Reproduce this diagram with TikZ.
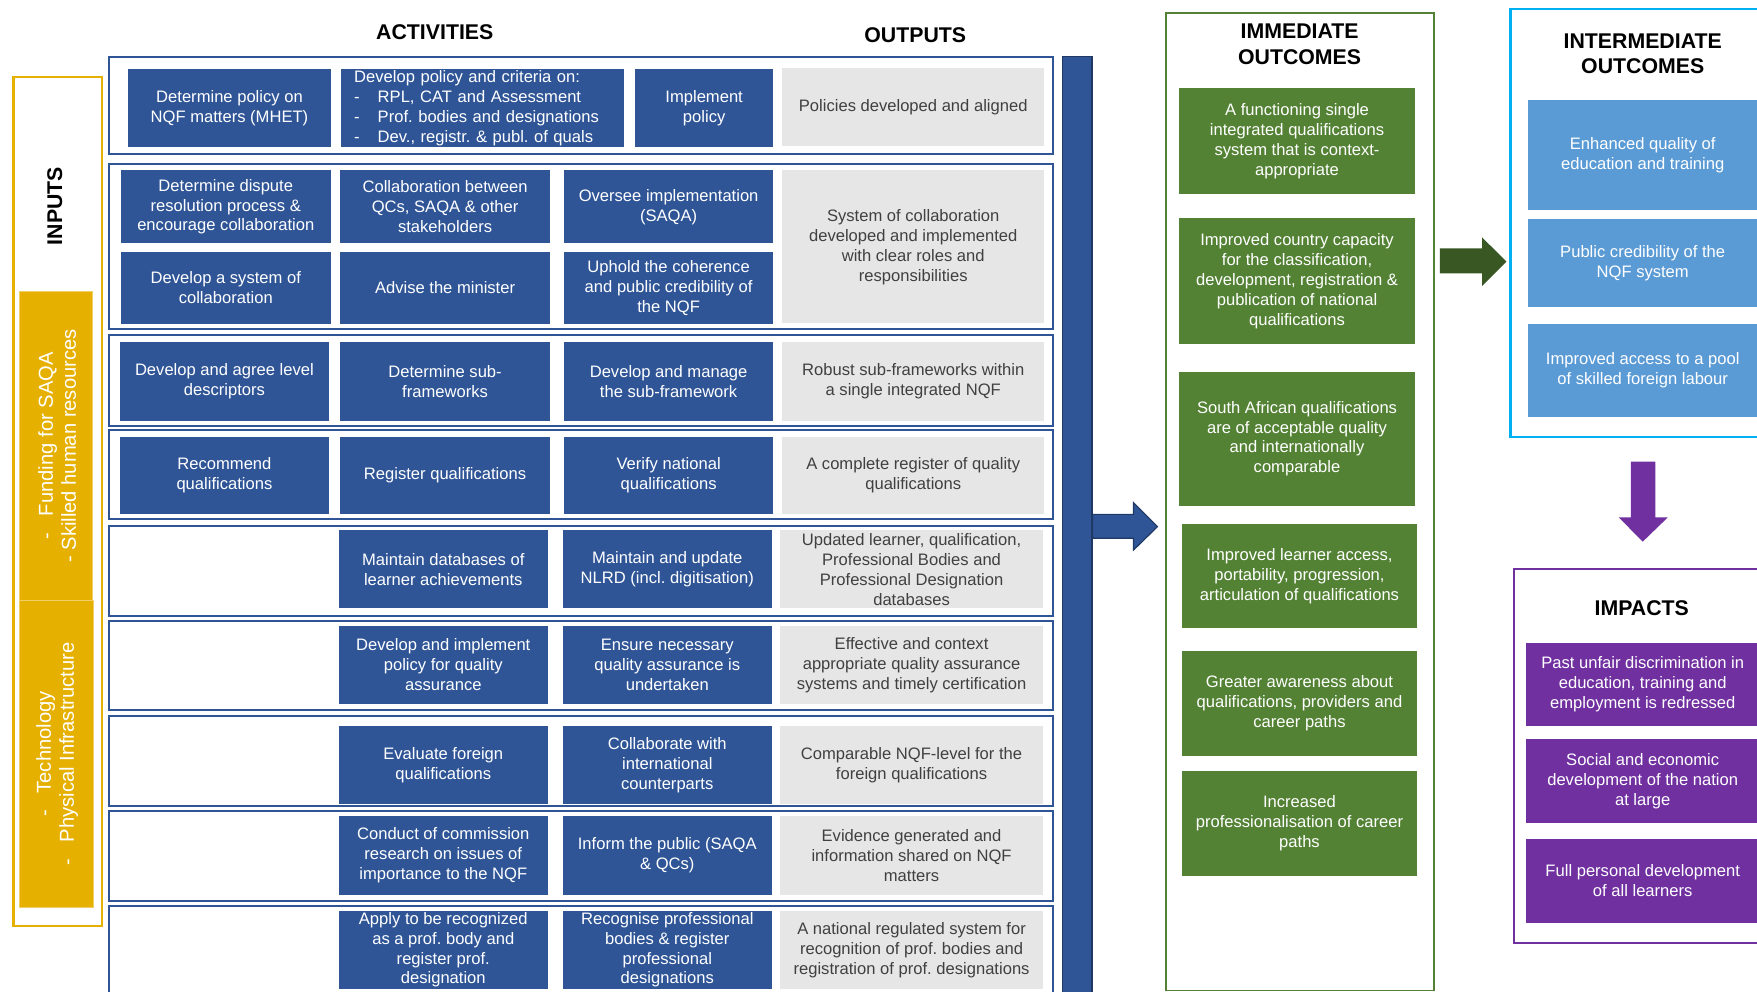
\documentclass[tikz,border=0pt]{standalone}
\usepackage{fontspec}
\setmainfont{Liberation Sans}
\frenchspacing
\definecolor{actblue}{RGB}{47,85,151}
\definecolor{darkblue}{RGB}{31,56,100}
\definecolor{outgrey}{RGB}{230,230,230}
\definecolor{outtext}{RGB}{64,64,64}
\definecolor{inyellow}{RGB}{230,176,0}
\definecolor{imgreen}{RGB}{84,130,53}
\definecolor{arrgreen}{RGB}{56,87,35}
\definecolor{frcyan}{RGB}{0,176,240}
\definecolor{midblue}{RGB}{91,155,213}
\definecolor{impurple}{RGB}{112,48,160}
\begin{document}
\begin{tikzpicture}[x=1pt,y=-1pt,
	box/.style={rectangle, inner sep=0pt, align=center, text=white, font=\fontsize{14.8}{17.8}\selectfont\frenchspacing},
	act/.style={box, fill=actblue, minimum width=187pt, minimum height=70pt},
	outp/.style={box, fill=outgrey, text=outtext, minimum width=234pt, minimum height=70pt},
	imm/.style={box, fill=imgreen, minimum width=210.5pt},
	mid/.style={box, fill=midblue, minimum width=204pt},
	imp/.style={box, fill=impurple, minimum width=209pt},
	head/.style={align=center, inner sep=0pt, font=\bfseries\fontsize{19}{23}\selectfont},
	side/.style={rotate=90, align=center, inner sep=0pt, text=white, font=\fontsize{18}{20.5}\selectfont},
	rowframe/.style={draw=actblue, line width=1.8pt, fill=white}]
	\useasboundingbox (0,0) rectangle (1568,885);

	\draw[inyellow, line width=2pt] (12,69) rectangle (91,826.5);
	\draw[fill=inyellow, draw=inyellow!60!white, line width=0.6pt] (17,260) rectangle (82,536);
	\draw[fill=inyellow, draw=inyellow!60!white, line width=0.6pt] (17,536) rectangle (83.5,809.5);
	\node (inputs)	at (49,184)	[rotate=90, inner sep=0pt, font=\bfseries\fontsize{19}{23}\selectfont]	{INPUTS};
	\node (fund)	at (51,398)	[side]	{-\hspace{15pt}Funding for SAQA\\- Skilled human resources};
	\node (tech)	at (51,673)	[side]	{-\hspace{15pt}Technology\\-\hspace{15pt}Physical Infrastructure};

	\node (activities)	at (388,29)	[head]	{ACTIVITIES};
	\node (outputs)	at (816.8,31)	[head]	{OUTPUTS};

	\draw[rowframe] (97,51) rectangle (940,137.5);
	\draw[rowframe] (97,146.5) rectangle (940,294);
	\draw[rowframe] (97,299) rectangle (940,380);
	\draw[rowframe] (97,384) rectangle (940,463.5);
	\draw[rowframe] (97,469) rectangle (940,549.5);
	\draw[rowframe] (97,554) rectangle (940,633.5);
	\draw[rowframe] (97,639) rectangle (940,719.5);
	\draw[rowframe] (97,724) rectangle (940,804);
	\draw[rowframe] (97,808.5) rectangle (940,900);

	\node (A1a) at (204.8,96.3)	[act, minimum width=182pt, minimum height=69.5pt]	{Determine policy on\\NQF matters (MHET)};
	\node (A1b) at (430.6,96.3)	[act, minimum width=253pt, minimum height=69.5pt, text width=229pt, align=left]	{Develop policy and criteria on:\\\makebox[21pt][l]{-}RPL, CAT and Assessment\\\makebox[21pt][l]{-}Prof. bodies and designations\\\makebox[21pt][l]{-}Dev., registr. \& publ. of quals};
	\node (A1c) at (628.4,96.3)	[act, minimum width=123pt, minimum height=69.5pt]	{Implement\\policy};
	\node (O1) at (815,95.4)	[outp, minimum height=69.5pt]	{Policies developed and aligned};

	\node (A2a) at (201.5,184.5)	[act, minimum height=65pt]	{Determine dispute\\resolution process \&\\encourage collaboration};
	\node (A2b) at (397.2,184.5)	[act, minimum height=65pt]	{Collaboration between\\QCs, SAQA \& other\\stakeholders};
	\node (A2c) at (596.7,184.5)	[act, minimum height=65pt]	{Oversee implementation\\(SAQA)};
	\node (A2d) at (201.5,256.8)	[act, minimum height=64.5pt]	{Develop a system of\\collaboration};
	\node (A2e) at (397.2,256.8)	[act, minimum height=64.5pt]	{Advise the minister};
	\node (A2f) at (596.7,256.8)	[act, minimum height=64.5pt]	{Uphold the coherence\\and public credibility of\\the NQF};
	\node (O2) at (815,220.3)	[outp, minimum height=136.6pt]	{System of collaboration\\developed and implemented\\with clear roles and\\responsibilities};

	\node (A3a) at (200.3,340.5)	[act]	{Develop and agree level\\descriptors};
	\node (A3b) at (397.2,340.5)	[act]	{Determine sub-\\frameworks};
	\node (A3c) at (596.7,340.5)	[act]	{Develop and manage\\the sub-framework};
	\node (O3) at (815,340.5)	[outp]	{Robust sub-frameworks within\\a single integrated NQF};

	\node (A4a) at (200.3,424.3)	[act, minimum height=69.5pt]	{Recommend\\qualifications};
	\node (A4b) at (397.2,424.3)	[act, minimum height=69.5pt]	{Register qualifications};
	\node (A4c) at (596.7,424.3)	[act, minimum height=69.5pt]	{Verify national\\qualifications};
	\node (O4) at (815,424.3)	[outp, minimum height=69.5pt]	{A complete register of quality\\qualifications};

	\node (A5b) at (395.6,508)	[act]	{Maintain databases of\\learner achievements};
	\node (A5c) at (595.5,508)	[act]	{Maintain and update\\NLRD (incl. digitisation)};
	\node (O5) at (813.5,508)	[outp]	{Updated learner, qualification,\\Professional Bodies and\\Professional Designation\\databases};

	\node (A6b) at (395.6,593.3)	[act]	{Develop and implement\\policy for quality\\assurance};
	\node (A6c) at (595.5,593.3)	[act]	{Ensure necessary\\quality assurance is\\undertaken};
	\node (O6) at (813.5,593.3)	[outp]	{Effective and context\\appropriate quality assurance\\systems and timely certification};

	\node (A7b) at (395.6,682.8)	[act]	{Evaluate foreign\\qualifications};
	\node (A7c) at (595.5,682.8)	[act]	{Collaborate with\\international\\counterparts};
	\node (O7) at (813.5,682.8)	[outp]	{Comparable NQF-level for the\\foreign qualifications};

	\node (A8b) at (395.6,763.6)	[act]	{Conduct of commission\\research on issues of\\importance to the NQF};
	\node (A8c) at (595.5,763.6)	[act]	{Inform the public (SAQA\\\& QCs)};
	\node (O8) at (813.5,763.6)	[outp]	{Evidence generated and\\information shared on NQF\\matters};

	\node (A9b) at (395.6,847.6)	[act]	{Apply to be recognized\\as a prof. body and\\register prof.\\designation};
	\node (A9c) at (595.5,847.6)	[act]	{Recognise professional\\bodies \& register\\professional\\designations};
	\node (O9) at (813.5,847.6)	[outp]	{A national regulated system for\\recognition of prof. bodies and\\registration of prof. designations};

	\draw[fill=actblue, draw=darkblue, line width=1.2pt] (948.3,50.6) rectangle (974.6,900);
	\filldraw[fill=actblue, draw=darkblue, line width=1pt] (975,459) -- (1011.6,459) -- (1011.6,448.6) -- (1033,470) -- (1011.6,490.9) -- (1011.6,480.4) -- (975,480.4) -- cycle;

	\draw[imgreen, line width=1.6pt] (1040.4,11.3) rectangle (1279.8,884);
	\node (immediate)	at (1159.8,39.2)	[head]	{IMMEDIATE\\OUTCOMES};
	\node (IO1) at (1157.5,125.9)	[imm, minimum height=94.1pt]	{A functioning single\\integrated qualifications\\system that is context-\\appropriate};
	\node (IO2) at (1157.5,251)	[imm, minimum height=112.1pt]	{Improved country capacity\\for the classification,\\development, registration \&\\publication of national\\qualifications};
	\node (IO3) at (1157.5,391.5)	[imm, minimum height=119.6pt]	{South African qualifications\\are of acceptable quality\\and internationally\\comparable};
	\node (IO4) at (1159.7,514.3)	[imm, minimum height=93.1pt]	{Improved learner access,\\portability, progression,\\articulation of qualifications};
	\node (IO5) at (1159.7,627.6)	[imm, minimum height=93.7pt]	{Greater awareness about\\qualifications, providers and\\career paths};
	\node (IO6) at (1159.7,734.7)	[imm, minimum height=93.7pt]	{Increased\\professionalisation of career\\paths};

	\fill[arrgreen] (1285,221.6) -- (1322.6,221.6) -- (1322.6,211.8) -- (1344.4,233.5) -- (1322.6,255.2) -- (1322.6,244) -- (1285,244) -- cycle;

	\draw[frcyan, line width=2pt] (1348,8.3) rectangle (1600,390.3);
	\node (intermediate)	at (1466,48)	[head]	{INTERMEDIATE\\OUTCOMES};
	\node (MO1) at (1466,138.3)	[mid, minimum height=98.2pt]	{Enhanced quality of\\education and training};
	\node (MO2) at (1466,234.9)	[mid, minimum height=78.9pt]	{Public credibility of the\\NQF system};
	\node (MO3) at (1466,330.5)	[mid, minimum height=82.9pt]	{Improved access to a pool\\of skilled foreign labour};

	\fill[impurple] (1455.5,412) -- (1455.5,461.7) -- (1444.6,461.7) -- (1466,483.4) -- (1488.4,461.7) -- (1477.2,461.7) -- (1477.2,412) -- cycle;

	\draw[impurple, line width=1.6pt] (1351.2,508) rectangle (1600,841.9);
	\node (impacts)	at (1465.2,543)	[head]	{IMPACTS};
	\node (P1) at (1466,610.6)	[imp, minimum height=74pt]	{Past unfair discrimination in\\education, training and\\employment is redressed};
	\node (P2) at (1466,697.3)	[imp, minimum height=75pt]	{Social and economic\\development of the nation\\at large};
	\node (P3) at (1466,786.1)	[imp, minimum height=74.6pt]	{Full personal development\\of all learners};
\end{tikzpicture}
\end{document}
